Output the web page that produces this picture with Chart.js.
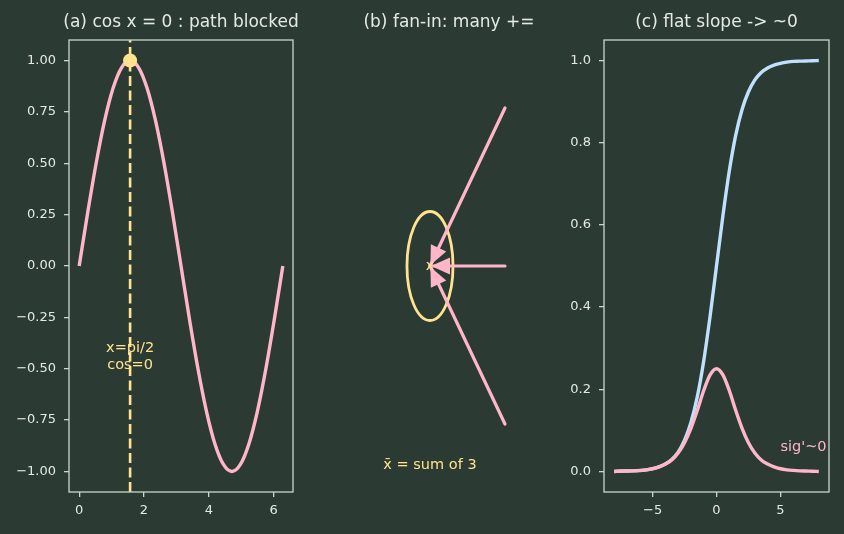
<!DOCTYPE html>
<html><head><meta charset="utf-8">
<script src="https://cdn.jsdelivr.net/npm/chart.js@4/dist/chart.umd.min.js"></script>
<style>
html,body{margin:0;padding:0;overflow:hidden;background:#2b3b34;}
#wrap{position:relative;width:844px;height:534px;overflow:hidden;background:#2b3b34;}
canvas{position:absolute;top:0;}
</style></head><body>
<div id="wrap">
<canvas id="ca" width="362" height="534" style="left:0px"></canvas>
<canvas id="cb" width="224" height="534" style="left:337px"></canvas>
<canvas id="cc" width="305" height="534" style="left:564px"></canvas>
</div>
<script>
// ---- data ----
const sineX = [0, 0.262, 0.524, 0.785, 1.047, 1.309, 1.571, 1.833, 2.094, 2.356, 2.618, 2.880, 3.142, 3.403, 3.665, 3.927, 4.189, 4.451, 4.712, 4.974, 5.236, 5.498, 5.760, 6.021, 6.283];
const sineY = [0, 0.259, 0.5, 0.707, 0.866, 0.966, 1, 0.966, 0.866, 0.707, 0.5, 0.259, 0, -0.259, -0.5, -0.707, -0.866, -0.966, -1, -0.966, -0.866, -0.707, -0.5, -0.259, 0];
const markX = [1.571];
const markY = [1.0];
const xTicksA = [0, 2, 4, 6];
const yTicksA = [-1, -0.75, -0.5, -0.25, 0, 0.25, 0.5, 0.75, 1];

const fanSrcX = [1, 1, 1];
const fanSrcY = [1, 0, -1];
const nodeX = [0];
const nodeY = [0];

const sigX = [-8, -7.5, -7, -6.5, -6, -5.5, -5, -4.5, -4, -3.5, -3, -2.5, -2, -1.5, -1, -0.5, 0, 0.5, 1, 1.5, 2, 2.5, 3, 3.5, 4, 4.5, 5, 5.5, 6, 6.5, 7, 7.5, 8];
const sigY = [0.000, 0.001, 0.001, 0.0015, 0.002, 0.004, 0.007, 0.011, 0.018, 0.029, 0.047, 0.076, 0.119, 0.182, 0.269, 0.378, 0.5, 0.622, 0.731, 0.818, 0.881, 0.924, 0.953, 0.971, 0.982, 0.989, 0.993, 0.996, 0.998, 0.9985, 0.999, 0.9994, 1.000];
const dsigY = [0.000, 0.0006, 0.001, 0.0015, 0.0025, 0.004, 0.0066, 0.011, 0.018, 0.028, 0.045, 0.070, 0.105, 0.149, 0.197, 0.235, 0.25, 0.235, 0.197, 0.149, 0.105, 0.070, 0.045, 0.028, 0.018, 0.011, 0.0066, 0.004, 0.0025, 0.0015, 0.001, 0.0006, 0.000];
const xTicksC = [-5, 0, 5];
const yTicksC = [0, 0.2, 0.4, 0.6, 0.8, 1.0];

// ---- styles ----
const FONT = "'DejaVu Sans'";
const TXT = '#e4eae2';
const SPINE = '#c9d6c9';
const PINK = '#ffb6c8';
const YEL = '#ffe38e';
const BLUE = '#bfe1fd';

Chart.defaults.font.family = 'DejaVu Sans';
Chart.defaults.animation = false;

const minus = s => String(s).replace('-', '\u2212');

function axisCfg(pos, min, max, ticksArr, fmt, size) {
  return {
    type: 'linear', position: pos, min: min, max: max,
    afterBuildTicks: ax => { ax.ticks = ticksArr.map(v => ({value: v})); },
    afterFit: ax => { if (pos === 'left') ax.width = size; else ax.height = size; },
    grid: {display: true, drawOnChartArea: false, drawTicks: true, tickLength: 5,
           tickColor: SPINE, tickWidth: 1.3, color: SPINE, lineWidth: 1.3},
    border: {display: false},
    ticks: {color: TXT, font: {family: 'DejaVu Sans', size: 13}, padding: pos === 'left' ? 8 : 6,
            maxRotation: 0, autoSkip: false, callback: v => fmt(v)}
  };
}

// empty right-hand axis: reserves room so the title stays centred over the plot
function spacerAxis(size) {
  return {type: 'linear', position: 'right', display: true,
          afterFit: ax => { ax.width = size; },
          grid: {display: false, drawTicks: false}, border: {display: false},
          ticks: {display: false}};
}

function titleCfg(text) {
  return {display: true, text: text, color: TXT,
          font: {family: 'DejaVu Sans', size: 17, weight: 'normal'},
          padding: {top: 12, bottom: 7.6}};
}

const framePlugin = {
  id: 'frame',
  afterDatasetsDraw(chart) {
    const {ctx, chartArea: a} = chart;
    ctx.save();
    ctx.strokeStyle = SPINE; ctx.lineWidth = 1.3;
    ctx.strokeRect(a.left, a.top, a.right - a.left, a.bottom - a.top);
    ctx.restore();
  }
};

function makeNotes(items) {
  return {
    id: 'notes',
    afterDatasetsDraw(chart) {
      const {ctx, chartArea: a, scales} = chart;
      items.forEach(n => {
        ctx.save();
        if (n.clip) { ctx.beginPath(); ctx.rect(a.left, a.top, a.right - a.left, a.bottom - a.top); ctx.clip(); }
        ctx.fillStyle = n.color;
        ctx.font = n.size + 'px ' + FONT;
        ctx.textAlign = n.align; ctx.textBaseline = n.baseline;
        const lines = n.text.split('\n');
        const px = scales.x.getPixelForValue(n.x), py = scales.y.getPixelForValue(n.y);
        lines.forEach((t, i) => ctx.fillText(t, px, py - (lines.length - 1 - i) * (n.lh || 0)));
        ctx.restore();
      });
    }
  };
}

const baseOpts = {responsive: false, animation: false, devicePixelRatio: 1, events: []};

// ---- panel (a) ----
new Chart(document.getElementById('ca'), {
  type: 'line',
  data: {datasets: [
    {data: sineX.map((x, i) => ({x: x, y: sineY[i]})), borderColor: PINK, borderWidth: 3.4,
     pointRadius: 0, cubicInterpolationMode: 'monotone', order: 3},
    {data: [{x: markX[0], y: -1.1}, {x: markX[0], y: 1.1}], borderColor: YEL, borderWidth: 2.6,
     borderDash: [10, 4.5], pointRadius: 0, order: 2},
    {data: markX.map((x, i) => ({x: x, y: markY[i]})), showLine: false, pointRadius: 7,
     pointBackgroundColor: YEL, pointBorderColor: YEL, pointBorderWidth: 0, order: 1}
  ]},
  options: Object.assign({}, baseOpts, {
    layout: {padding: 0},
    plugins: {legend: {display: false}, tooltip: {enabled: false},
              title: titleCfg('(a) cos x = 0 : path blocked')},
    scales: {
      x: axisCfg('bottom', -0.314, 6.597, xTicksA, v => minus(v), 42),
      y: axisCfg('left', -1.1, 1.1, yTicksA, v => minus(v.toFixed(2)), 69),
      yr: spacerAxis(69)
    }
  }),
  plugins: [framePlugin, makeNotes([
    {x: markX[0], y: -0.5, text: 'x=pi/2\ncos=0', color: YEL, size: 14.5, align: 'center', baseline: 'alphabetic', lh: 17}
  ])]
});

// ---- panel (b) ----
const fanPlugin = {
  id: 'fan',
  beforeDatasetsDraw(chart) {
    const {ctx, scales: {x, y}} = chart;
    const cx = x.getPixelForValue(nodeX[0]), cy = y.getPixelForValue(nodeY[0]);
    const rx = Math.abs(x.getPixelForValue(nodeX[0] + 0.307) - cx);
    const ry = Math.abs(y.getPixelForValue(nodeY[0] + 0.345) - cy);
    ctx.save();
    ctx.strokeStyle = YEL; ctx.lineWidth = 2.8;
    ctx.beginPath(); ctx.ellipse(cx, cy, rx, ry, 0, 0, Math.PI * 2); ctx.stroke();
    ctx.restore();
  },
  afterDatasetsDraw(chart) {
    const {ctx, scales: {x, y}} = chart;
    const tx = x.getPixelForValue(nodeX[0]), ty = y.getPixelForValue(nodeY[0]);
    ctx.save();
    ctx.fillStyle = PINK;
    fanSrcX.forEach((sxv, i) => {
      const sx = x.getPixelForValue(sxv), sy = y.getPixelForValue(fanSrcY[i]);
      let dx = tx - sx, dy = ty - sy; const len = Math.hypot(dx, dy); dx /= len; dy /= len;
      const px = tx - dx * 1, py = ty - dy * 1;
      const L = 19, W = 8.5;
      const bx = px - dx * L, by = py - dy * L;
      ctx.beginPath();
      ctx.moveTo(px, py);
      ctx.lineTo(bx - dy * W, by + dx * W);
      ctx.lineTo(bx + dy * W, by - dx * W);
      ctx.closePath(); ctx.fill();
    });
    ctx.fillStyle = YEL;
    ctx.font = '14.5px ' + FONT;
    ctx.textAlign = 'center'; ctx.textBaseline = 'middle';
    ctx.fillText('x', tx, ty);
    ctx.textBaseline = 'alphabetic';
    ctx.fillText('x\u0304 = sum of 3', tx, y.getPixelForValue(-1.285));
    ctx.restore();
  }
};

new Chart(document.getElementById('cb'), {
  type: 'line',
  data: {datasets: fanSrcX.map((sx, i) => ({
    data: [{x: sx, y: fanSrcY[i]}, {x: nodeX[0], y: nodeY[0]}],
    borderColor: PINK, borderWidth: 3.2, pointRadius: 0, borderCapStyle: 'round'
  }))},
  options: Object.assign({}, baseOpts, {
    layout: {padding: {left: 0, right: 0, top: 0, bottom: 42}},
    plugins: {legend: {display: false}, tooltip: {enabled: false},
              title: titleCfg('(b) fan-in: many +=')},
    scales: {
      x: {type: 'linear', display: false, min: -1.24, max: 1.747},
      y: {type: 'linear', display: false, min: -1.43, max: 1.43}
    }
  }),
  plugins: [fanPlugin]
});

// ---- panel (c) ----
new Chart(document.getElementById('cc'), {
  type: 'line',
  data: {datasets: [
    {data: sigX.map((x, i) => ({x: x, y: sigY[i]})), borderColor: BLUE, borderWidth: 3.4,
     pointRadius: 0, cubicInterpolationMode: 'monotone', order: 2},
    {data: sigX.map((x, i) => ({x: x, y: dsigY[i]})), borderColor: PINK, borderWidth: 3.4,
     pointRadius: 0, cubicInterpolationMode: 'monotone', order: 1}
  ]},
  options: Object.assign({}, baseOpts, {
    layout: {padding: 0},
    plugins: {legend: {display: false}, tooltip: {enabled: false},
              title: titleCfg('(c) flat slope -> ~0')},
    scales: {
      x: axisCfg('bottom', -8.8, 8.8, xTicksC, v => minus(v), 42),
      y: axisCfg('left', -0.05, 1.05, yTicksC, v => minus(v.toFixed(1)), 40),
      yr: spacerAxis(40)
    }
  }),
  plugins: [framePlugin, makeNotes([
    {x: 5, y: 0.05, text: "sig'~0", color: PINK, size: 14.5, align: 'left', baseline: 'alphabetic', clip: true}
  ])]
});
</script>
</body></html>
